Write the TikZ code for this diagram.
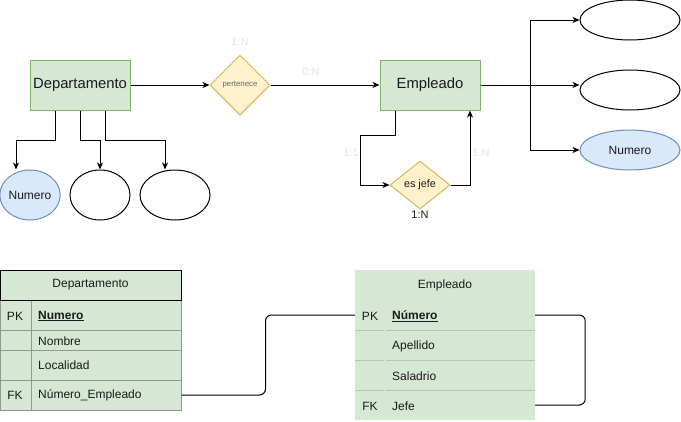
\documentclass[tikz,border=0pt]{standalone}
\usepackage{fontspec}
\setmainfont{Liberation Sans}
\usetikzlibrary{arrows.meta,shapes.geometric}
\definecolor{entF}{HTML}{D5E8D4}
\definecolor{entS}{HTML}{82B366}
\definecolor{relF}{HTML}{FFF2CC}
\definecolor{relS}{HTML}{D6B656}
\definecolor{keyF}{HTML}{DAE8FC}
\definecolor{keyS}{HTML}{6C8EBF}
\definecolor{cardC}{HTML}{E3E3E3}
\definecolor{txt}{HTML}{1A1A1A}
\definecolor{rowS}{HTML}{8F9A8C}
\definecolor{sepS}{HTML}{B8C4B6}
\tikzset{
  entity/.style={draw=entS, fill=entF, line width=1pt, minimum width=100pt, minimum height=50pt, inner sep=0pt, text=txt, font=\fontsize{14.8}{16}\selectfont},
  relbox/.style={diamond, draw=relS, fill=relF, line width=1pt, minimum width=60pt, minimum height=60pt, inner sep=0pt, aspect=1},
  attrbox/.style={ellipse, draw=black, fill=white, line width=1pt, inner sep=0pt},
  keybox/.style={ellipse, draw=keyS, fill=keyF, line width=1pt, inner sep=0pt, text=txt, font=\fontsize{12}{14}\selectfont},
  conn/.style={draw=black, line width=1pt, -{Stealth[length=7pt,width=6pt,inset=2pt]}},
  card/.style={text=cardC, font=\fontsize{11}{12}\selectfont, inner sep=0pt},
  trow/.style={fill=entF, draw=rowS, line width=1pt, minimum width=181pt, inner sep=0pt},
  erow/.style={fill=entF, draw=none, minimum width=180pt, inner sep=0pt},
  celltxt/.style={text=txt, font=\fontsize{12}{14}\selectfont, inner sep=0pt},
  link/.style={draw=black, line width=1pt, rounded corners=6pt},
}
\begin{document}
\begin{tikzpicture}[x=1pt,y=-1pt]
\useasboundingbox (0,0) rectangle (681,421);
% ER diagram
\node[entity] (dep) at (80,85) {Departamento};
\node[entity] (emp) at (430,85) {Empleado};
\node[relbox, text=black!60, font=\fontsize{7.8}{9}\selectfont] (pert) at (240,85) {pertenece};
\node[relbox, minimum height=48pt, aspect=1.25, text=txt, font=\fontsize{10.8}{12}\selectfont] (jefe) at (420,185) {es jefe};
\node[keybox, minimum width=60pt, minimum height=50pt] (dnum) at (30,195) {Numero};
\node[attrbox, minimum width=60pt, minimum height=50pt] (da2) at (100,195) {};
\node[attrbox, minimum width=70pt, minimum height=50pt] (da3) at (175,195) {};
\node[attrbox, minimum width=100pt, minimum height=40pt] (ra1) at (630,20) {};
\node[attrbox, minimum width=100pt, minimum height=40pt] (ra2) at (630,90) {};
\node[keybox, minimum width=100pt, minimum height=40pt] (ra3) at (630,150) {Numero};
\draw[conn] ([xshift=-25pt]dep.south) -- ++(0,30) -| ([xshift=-14pt]dnum.north);
\draw[conn] (dep.south) -- ++(0,30) -| (da2.north);
\draw[conn] ([xshift=25pt]dep.south) -- ++(0,30) -| ([xshift=-10pt]da3.north);
\draw[conn] (dep) -- (pert);
\draw[conn] (pert) -- (emp);
\coordinate (j1) at (360,135);
\draw[conn] ([xshift=-35pt]emp.south) |- (j1) |- (jefe.west);
\draw[conn] (jefe.east) -| ([xshift=40pt]emp.south);
\coordinate (br) at (530,85);
\draw[line width=1pt] (emp.east) -- (br);
\draw[conn] (br) |- (ra1.west);
\draw[conn] (br) -- (ra2.west |- br);
\draw[conn] (br) |- (ra3.west);
\node[card] (c1) at (240,42) {1:N};
\node[card] (c2) at (311,72) {0:N};
\node[card] (c3) at (351,153) {1:1};
\node[card] (c4) at (481,153) {1:N};
\node[card, text=txt] (c5) at (420,214.5) {1:N};
% Departamento table
\node[trow, minimum height=30pt] (dpk) at (90.5,315) {};
\node[trow, minimum height=20pt] (dno) at (90.5,340) {};
\node[trow, minimum height=30pt] (dlo) at (90.5,365) {};
\node[trow, minimum height=30pt] (dfk) at (90.5,395) {};
\draw[draw=rowS, line width=1pt] (31,300) -- (31,410);
\node[trow, draw=black, minimum height=30pt] (dh) at (90.5,285) {};
\node[celltxt] (dht) at (90.5,285) {Departamento};
\node[celltxt] (dpkk) at (15,316) {PK};
\node[celltxt, anchor=west] (dpkv) at (38,316) {\textbf{\underline{Numero}}};
\node[celltxt, anchor=west] (dnov) at (38,341) {Nombre};
\node[celltxt, anchor=west] (dlov) at (38,365) {Localidad};
\node[celltxt] (dfkk) at (15,395) {FK};
\node[celltxt, anchor=west] (dfkv) at (38,395) {Número\_Empleado};
% Empleado table
\node[erow, minimum height=30pt] (eh) at (445,285) {};
\node[erow, minimum height=30pt] (epk) at (445,315) {};
\node[erow, minimum height=30pt] (eap) at (445,345) {};
\node[erow, minimum height=30pt] (esa) at (445,375) {};
\node[erow, minimum height=30pt] (ejf) at (445,405) {};
\foreach \yy in {330,360,390}{
  \draw[sepS, line width=1pt] (355,\yy) -- (384,\yy);
  \draw[sepS, line width=1pt] (386,\yy) -- (535,\yy);
}
\node[celltxt] (eht) at (445,285) {Empleado};
\node[celltxt] (epkk) at (370,316) {PK};
\node[celltxt, anchor=west] (epkv) at (392,316) {\textbf{\underline{Número}}};
\node[celltxt, anchor=west] (eapv) at (392,346) {Apellido};
\node[celltxt, anchor=west] (esav) at (392,376) {Saladrio};
\node[celltxt] (ejfk) at (370,406) {FK};
\node[celltxt, anchor=west] (ejfv) at (392,406) {Jefe};
% table links
\draw[link] (dfk.east) -- ++(84,0) |- (epk.west);
\draw[link] (epk.east) -- ++(50,0) |- (ejf.east);
\end{tikzpicture}
\end{document}
